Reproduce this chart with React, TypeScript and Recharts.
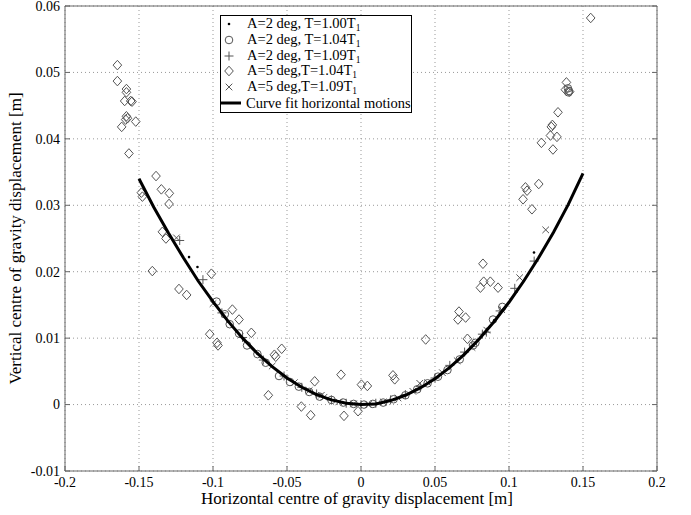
import React from 'react';
import { ScatterChart, Scatter, XAxis, YAxis, CartesianGrid, Legend } from 'recharts';

const xTicks = [-0.2, -0.15, -0.1, -0.05, 0, 0.05, 0.1, 0.15, 0.2];
const yTicks = [-0.01, 0, 0.01, 0.02, 0.03, 0.04, 0.05, 0.06];

const xLabel = 'Horizontal centre of gravity displacement [m]';
const yLabel = 'Vertical centre of gravity displacement [m]';

// legend labels: [main text, subscript]
const legendLabels: [string, string][] = [
  ['A=2 deg, T=1.00T', '1'],
  ['A=2 deg, T=1.04T', '1'],
  ['A=2 deg, T=1.09T', '1'],
  ['A=5 deg,T=1.04T', '1'],
  ['A=5 deg,T=1.09T', '1'],
  ['Curve fit horizontal motions', ''],
];

// A=2 deg, T=1.00T1 (dots)
const dotsA2T100: [number, number][] = [
  [-0.1162, 0.0222], [-0.1105, 0.0207], [-0.09, 0.0125], [-0.07, 0.0077], [-0.05, 0.0039],
  [-0.03, 0.0014], [-0.01, 0.0002], [0.01, 0.0001], [0.03, 0.0014], [0.05, 0.004],
  [0.07, 0.0077], [0.09, 0.0127], [0.105, 0.017], [0.1169, 0.0229],
];

// A=2 deg, T=1.04T1 (circles)
const circlesA2T104: [number, number][] = [
  [-0.0976, 0.0155], [-0.092, 0.0136], [-0.0887, 0.0121], [-0.0824, 0.0107], [-0.077, 0.0089],
  [-0.07, 0.0076], [-0.0644, 0.0063], [-0.0554, 0.0043], [-0.048, 0.0034], [-0.042, 0.0027],
  [-0.035, 0.0019], [-0.028, 0.0012], [-0.02, 0.0007], [-0.012, 0.0003], [-0.005, 0.0001],
  [0.002, 0.0], [0.008, 0.0001], [0.015, 0.0003], [0.022, 0.0008], [0.03, 0.0014],
  [0.038, 0.0023], [0.045, 0.0032], [0.052, 0.0042], [0.0584, 0.0052], [0.0667, 0.0068],
  [0.0757, 0.0089], [0.0773, 0.0093], [0.0892, 0.0128], [0.0955, 0.0147],
  [0.1405, 0.0472], [0.1398, 0.0476], [0.1402, 0.0470],
];

// A=2 deg, T=1.09T1 (plus)
const plusA2T109: [number, number][] = [
  [-0.1225, 0.0247], [-0.1068, 0.0188], [-0.094, 0.0138], [-0.08, 0.0101], [-0.066, 0.0067],
  [-0.052, 0.0043], [-0.04, 0.0026], [-0.03, 0.0016], [-0.02, 0.0007], [-0.01, 0.0002],
  [0.0, 0.0], [0.01, 0.0002], [0.02, 0.0007], [0.03, 0.0015], [0.04, 0.0027],
  [0.05, 0.004], [0.06, 0.0059], [0.07, 0.0079], [0.082, 0.0106], [0.0847, 0.0109],
  [0.094, 0.0141], [0.1039, 0.0175], [0.117, 0.0216],
];

// A=5 deg, T=1.04T1 (diamonds)
const diamondsA5T104: [number, number][] = [
  [-0.1646, 0.0511], [-0.1646, 0.0487], [-0.1585, 0.0475], [-0.1585, 0.047], [-0.1597, 0.0457],
  [-0.1556, 0.0457], [-0.1547, 0.0456], [-0.1585, 0.0434], [-0.1578, 0.0431], [-0.159, 0.0429],
  [-0.1522, 0.0426], [-0.1617, 0.0418], [-0.1568, 0.0378],
  [-0.1385, 0.0344], [-0.1349, 0.0324], [-0.1295, 0.0318], [-0.1297, 0.0302], [-0.1484, 0.0319],
  [-0.1477, 0.0313], [-0.1342, 0.026], [-0.1318, 0.025], [-0.141, 0.0201], [-0.1011, 0.0197],
  [-0.123, 0.0174], [-0.1178, 0.0165], [-0.0869, 0.0143], [-0.0824, 0.0128], [-0.0741, 0.0108],
  [-0.1022, 0.0106], [-0.0973, 0.0093], [-0.0966, 0.0089], [-0.0536, 0.0084], [-0.0576, 0.0072],
  [-0.0585, 0.0075], [-0.0313, 0.0035], [-0.0135, 0.0045], [-0.0626, 0.0014], [-0.0403, -0.0003],
  [-0.034, -0.0016], [-0.0115, -0.0017], [0.0003, 0.003], [0.0043, 0.0028], [-0.002, -0.001],
  [0.0216, 0.0044], [0.0228, 0.0038], [0.0437, 0.0098], [0.0662, 0.014], [0.0655, 0.0128],
  [0.0707, 0.0131], [0.0719, 0.0099], [0.0824, 0.0212], [0.0829, 0.0185], [0.0807, 0.0176],
  [0.0874, 0.0185], [0.0926, 0.0176],
  [0.1201, 0.0332], [0.1111, 0.0327], [0.1122, 0.0322], [0.1095, 0.0309], [0.1155, 0.0294],
  [0.1552, 0.0582], [0.1388, 0.0485], [0.1381, 0.0474], [0.141, 0.0471], [0.1331, 0.044],
  [0.1293, 0.0421], [0.1286, 0.0418], [0.128, 0.0405], [0.1324, 0.0403], [0.1219, 0.0394],
  [0.1297, 0.0384],
];

// A=5 deg, T=1.09T1 (crosses)
const crossA5T109: [number, number][] = [
  [-0.1247, 0.0251], [-0.1, 0.0152], [-0.06, 0.0058], [-0.045, 0.0033], [-0.035, 0.0021],
  [-0.0268, 0.0014], [-0.025, 0.0011], [-0.015, 0.0004], [-0.005, 0.0001], [0.005, 0.0],
  [0.015, 0.0004], [0.025, 0.001], [0.035, 0.002], [0.0397, 0.0032], [0.045, 0.0033],
  [0.055, 0.0048], [0.065, 0.0066], [0.075, 0.0086], [0.085, 0.0112], [0.095, 0.0143],
  [0.1072, 0.0191], [0.1248, 0.0263],
];

// Curve fit horizontal motions
const curveX = [-0.15, -0.14, -0.13, -0.12, -0.11, -0.1, -0.09, -0.08, -0.07, -0.06, -0.05, -0.04, -0.03, -0.02, -0.01,
  0, 0.01, 0.02, 0.03, 0.04, 0.05, 0.06, 0.07, 0.08, 0.09, 0.1, 0.11, 0.12, 0.13, 0.14, 0.15];
const curveY = [0.034, 0.0297, 0.0258, 0.0221, 0.0186, 0.0155, 0.0126, 0.01, 0.0077, 0.0057, 0.004, 0.0026, 0.0015, 0.0007, 0.0002,
  0.0, 0.0001, 0.0006, 0.0014, 0.0025, 0.0039, 0.0056, 0.0076, 0.0099, 0.0125, 0.0154, 0.0186, 0.0221, 0.0259, 0.0301, 0.0348];

const toPts = (arr: [number, number][]) => arr.map(([x, y]) => ({ x, y }));
const curveData = curveX.map((x, i) => ({ x, y: curveY[i] }));

const FONT = '"Liberation Serif", "Times New Roman", serif';
const MS = '#555';

const DotM = ({ cx, cy }: any) => <circle cx={cx} cy={cy} r={1.3} fill="#000" />;
const CircleM = ({ cx, cy }: any) => <circle cx={cx} cy={cy} r={3.8} fill="none" stroke={MS} strokeWidth={1} />;
const PlusM = ({ cx, cy }: any) => (
  <path d={`M${cx - 4.5},${cy}H${cx + 4.5}M${cx},${cy - 4.5}V${cy + 4.5}`} stroke={MS} strokeWidth={1} fill="none" />
);
const DiamondM = ({ cx, cy }: any) => (
  <path d={`M${cx},${cy - 4.8}L${cx + 4.3},${cy}L${cx},${cy + 4.8}L${cx - 4.3},${cy}Z`} stroke={MS} strokeWidth={1} fill="none" />
);
const CrossM = ({ cx, cy }: any) => (
  <path d={`M${cx - 3.3},${cy - 3.3}L${cx + 3.3},${cy + 3.3}M${cx - 3.3},${cy + 3.3}L${cx + 3.3},${cy - 3.3}`} stroke={MS} strokeWidth={1} fill="none" />
);
const NoShape = () => <g />;

const legendIcons = [DotM, CircleM, PlusM, DiamondM, CrossM, null];

const LegendBox = () => (
  <div
    style={{
      border: '1px solid #000',
      background: '#fff',
      width: 192,
      boxSizing: 'border-box',
      padding: '0px 0 1px 0',
      fontFamily: FONT,
      fontSize: 14.5,
      color: '#000',
    }}
  >
    {legendLabels.map(([main, sub], i) => {
      const Icon = legendIcons[i];
      return (
        <div key={i} style={{ display: 'flex', alignItems: 'center', height: 15.8, whiteSpace: 'nowrap' }}>
          <svg width={25} height={16} style={{ flex: 'none' }}>
            {Icon ? <Icon cx={8} cy={8} /> : <line x1={0} x2={20} y1={8} y2={8} stroke="#000" strokeWidth={3} />}
          </svg>
          <span style={{ marginLeft: i === 5 ? 0 : 1, lineHeight: '14px' }}>
            {main}
            {sub ? <span style={{ fontSize: 9.5, position: 'relative', top: 3 }}>{sub}</span> : null}
          </span>
        </div>
      );
    })}
  </div>
);

const YLabelC = (props: any) => {
  const vb = props.viewBox || { x: 0, y: 6, width: 65, height: 465 };
  const cx = 15;
  const cy = vb.y + vb.height / 2;
  return (
    <text x={cx} y={cy} transform={`rotate(-90 ${cx} ${cy})`} textAnchor="middle" dominantBaseline="central"
      fontFamily={FONT} fontSize={17} fill="#000">{yLabel}</text>
  );
};

const XLabelC = (props: any) => {
  const vb = props.viewBox || { x: 65, y: 471, width: 592, height: 44 };
  const cx = vb.x + vb.width / 2 - 4;
  const cy = vb.y + 27;
  return (
    <text x={cx} y={cy} textAnchor="middle" dominantBaseline="central" fontFamily={FONT} fontSize={17} fill="#000">{xLabel}</text>
  );
};

const XTick = (props: any) => {
  const { x, y, payload } = props;
  return (
    <text x={x} y={y} dy="0.71em" textAnchor="middle" fontFamily={FONT} fontSize={14} fill="#000">{String(payload.value)}</text>
  );
};
const YTick = (props: any) => {
  const { x, y, payload } = props;
  return (
    <text x={x} y={y} dy="0.35em" textAnchor="end" fontFamily={FONT} fontSize={14} fill="#000">{String(payload.value)}</text>
  );
};

const axisLine = { stroke: '#666' };

export default function App() {
  return (
    <div style={{ position: 'absolute', left: 0, top: 0, width: 691, height: 515, background: '#fff' }}>
      <ScatterChart width={691} height={515} margin={{ top: 5, right: 33, bottom: 0, left: 0 }}>
        <CartesianGrid stroke="#999" strokeDasharray="1 3" xAxisId="b" yAxisId="l" />
        <XAxis xAxisId="b" type="number" dataKey="x" domain={[-0.2, 0.2]} ticks={xTicks} allowDataOverflow
          height={44} tick={<XTick />} tickSize={-5} tickMargin={11} axisLine={axisLine} tickLine={{ stroke: '#666' }}
          interval={0} label={<XLabelC />} />
        <XAxis xAxisId="top" orientation="top" type="number" domain={[-0.2, 0.2]} ticks={xTicks} allowDataOverflow
          height={1} tick={() => <g />} tickSize={-5} axisLine={axisLine} tickLine={{ stroke: '#666' }} interval={0} />
        <YAxis yAxisId="l" type="number" dataKey="y" domain={[-0.01, 0.06]} ticks={yTicks} allowDataOverflow
          width={65} tick={<YTick />} tickSize={-5} tickMargin={10} axisLine={axisLine} tickLine={{ stroke: '#666' }}
          interval={0} label={<YLabelC />} />
        <YAxis yAxisId="right" orientation="right" type="number" domain={[-0.01, 0.06]} ticks={yTicks} allowDataOverflow
          width={1} tick={() => <g />} tickSize={-5} axisLine={axisLine} tickLine={{ stroke: '#666' }} interval={0} />
        <Legend layout="vertical" align="center" verticalAlign="middle" content={() => <LegendBox />}
          wrapperStyle={{ left: 220, top: 15, width: 192 }} />
        <Scatter xAxisId="b" yAxisId="l" name="A=2 deg, T=1.00T1" data={toPts(dotsA2T100)} shape={DotM} isAnimationActive={false} />
        <Scatter xAxisId="b" yAxisId="l" name="A=2 deg, T=1.04T1" data={toPts(circlesA2T104)} shape={CircleM} isAnimationActive={false} />
        <Scatter xAxisId="b" yAxisId="l" name="A=2 deg, T=1.09T1" data={toPts(plusA2T109)} shape={PlusM} isAnimationActive={false} />
        <Scatter xAxisId="b" yAxisId="l" name="A=5 deg,T=1.04T1" data={toPts(diamondsA5T104)} shape={DiamondM} isAnimationActive={false} />
        <Scatter xAxisId="b" yAxisId="l" name="A=5 deg,T=1.09T1" data={toPts(crossA5T109)} shape={CrossM} isAnimationActive={false} />
        <Scatter xAxisId="b" yAxisId="l" name="Curve fit horizontal motions" data={curveData} shape={NoShape}
          line={{ stroke: '#000', strokeWidth: 3 }} lineJointType="linear" isAnimationActive={false} />
      </ScatterChart>
    </div>
  );
}
